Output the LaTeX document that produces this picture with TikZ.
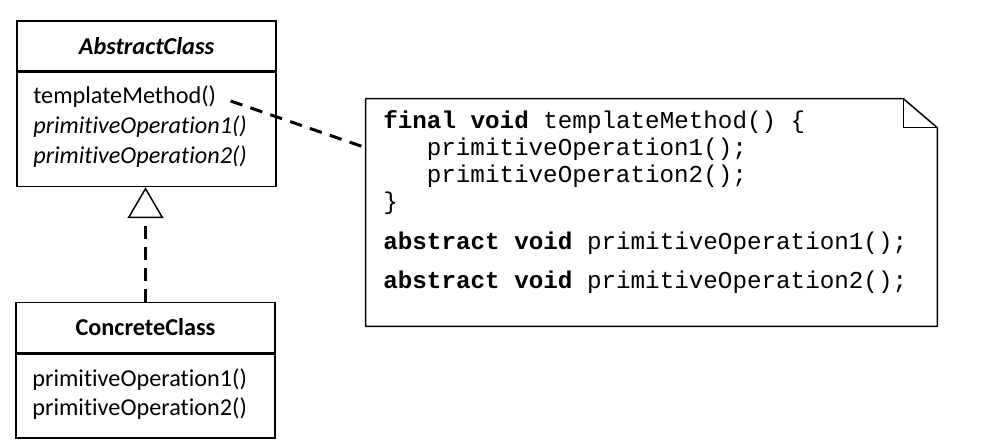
\documentclass[tikz,border=0pt]{standalone}
\usepackage{fontspec}
\setmainfont{Carlito}[RawFeature=-liga]
\newfontfamily\codefont{Liberation Mono}
\usetikzlibrary{positioning,arrows.meta}

\tikzset{
  umlhead/.style={draw, line width=0.85pt, minimum width=5.18cm, minimum height=1cm, inner sep=0pt, font=\fontsize{13.8}{17}\selectfont},
  umlbody/.style={draw, line width=0.85pt, minimum width=5.18cm, inner sep=0pt},
  op/.style={anchor=base west, inner sep=0pt, font=\fontsize{13.8}{17}\selectfont},
  codeline/.style={anchor=base west, inner sep=0pt, font=\codefont\fontsize{13.8}{15.4}\selectfont},
  umldash/.style={line width=1.7pt, dash pattern=on 0.25cm off 0.17cm},
}

\begin{document}
\begin{tikzpicture}[x=0.02cm, y=-0.02cm]
    \useasboundingbox (0,0) rectangle (1001,447);

    % Abstract class
    \node[umlhead] (ac) at (146.5,46) {\bfseries\itshape AbstractClass};
    \node[umlbody, minimum height=2.28cm, below=0pt of ac] (acbody) {};
    \node[op] (tm) at (33,103) {templateMethod()};
    \node[op] (po1) at (33,133) {\itshape primitiveOperation1()};
    \node[op] (po2) at (33,163) {\itshape primitiveOperation2()};

    % Concrete class
    \node[umlhead] (cc) at (145.5,327.5) {\bfseries ConcreteClass};
    \node[umlbody, minimum height=1.68cm, below=0pt of cc] (ccbody) {};
    \node[op] (cpo1) at (32,386) {primitiveOperation1()};
    \node[op] (cpo2) at (32,415) {primitiveOperation2()};

    % Realization arrow
    \draw[umldash, -{Triangle[open, length=0.62cm, width=0.72cm, line width=0.85pt]}]
        (cc.north) -- (cc.north |- acbody.south);

    % Note with folded corner
    \node[minimum width=11.42cm, minimum height=4.54cm, inner sep=0pt] (note) at (651.5,212.5) {};
    \draw[line width=0.85pt, line join=round] (note.north west) -- ([xshift=-0.68cm]note.north east)
        -- ([yshift=-0.58cm]note.north east) -- (note.south east) -- (note.south west) -- cycle;
    \draw[line width=0.85pt] ([xshift=-0.68cm]note.north east) |- ([yshift=-0.58cm]note.north east);

    \node[codeline] (l1) at (383,128) {\textbf{final void} templateMethod() \{};
    \node[codeline] (l2) at (426.5,155) {primitiveOperation1();};
    \node[codeline] (l3) at (426.5,182) {primitiveOperation2();};
    \node[codeline] (l4) at (383,209) {\}};
    \node[codeline] (l5) at (383,249) {\textbf{abstract void} primitiveOperation1();};
    \node[codeline] (l6) at (383,288) {\textbf{abstract void} primitiveOperation2();};

    % Note anchor line
    \coordinate (noteport) at ([yshift=-0.98cm]note.north west);
    \draw[umldash, shorten <=0.3cm] (tm.east) -- (noteport);
\end{tikzpicture}
\end{document}
